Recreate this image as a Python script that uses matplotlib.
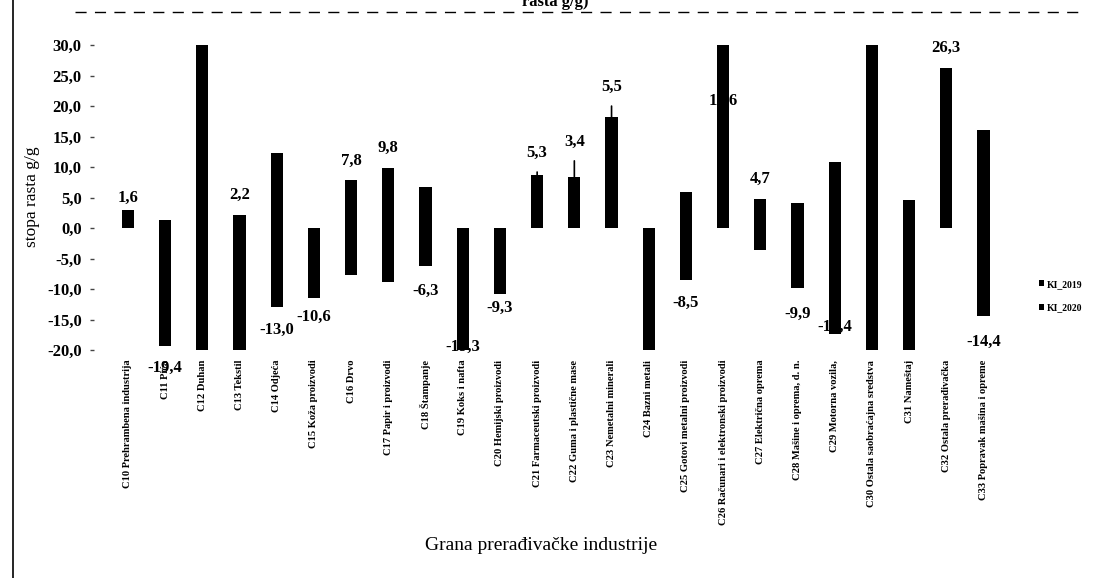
import matplotlib
matplotlib.use("Agg")
import matplotlib.pyplot as plt
from matplotlib.lines import Line2D
from matplotlib.patches import Patch

# ---- data ----
categories = ["C10 Prehrambena industrija", "C11 Pića", "C12 Duhan", "C13 Tekstil",
              "C14 Odjeća", "C15 Koža proizvodi", "C16 Drvo", "C17 Papir i proizvodi",
              "C18 Štampanje", "C19 Koks i nafta", "C20 Hemijski proizvodi",
              "C21 Farmaceutski proizvodi", "C22 Guma i plastične mase",
              "C23 Nemetalni minerali", "C24 Bazni metali", "C25 Gotovi metalni proizvodi",
              "C26 Računari i elektronski proizvodi", "C27 Električna oprema",
              "C28 Mašine i oprema, d. n.", "C29 Motorna vozila,",
              "C30 Ostala saobraćajna sredstva", "C31 Nameštaj",
              "C32 Ostala prerađivačka", "C33 Popravak mašina i opreme"]
ki_2019 = [3.0, 1.3, 36.0, -21.0, 12.3, -11.4, -7.7, -8.9, 6.7, -21.5, -10.8, 8.7,
           8.4, 18.2, -23.0, 5.9, 32.0, -3.6, 4.1, 10.8, 34.0, 4.6, 1.5, 16.1]
ki_2020 = [1.6, -19.4, -24.0, 2.2, -13.0, -10.6, 7.8, 9.8, -6.3, -19.3, -9.3, 5.3,
           3.4, 5.5, -21.0, -8.5, 17.6, 4.7, -9.9, -17.4, -23.0, -22.0, 26.3, -14.4]
labeled = [True, True, False, True, True, True, True, True, True, True, True, True,
           True, True, False, True, True, True, True, True, False, False, True, True]
series_names = ["KI_2019", "KI_2020"]
y_ticks = [30, 25, 20, 15, 10, 5, 0, -5, -10, -15, -20]

# ---- label layout (pixels, upward positive) ----
label_dy = [20, -22, 0, 20, -23, -24, 20, 20, -24, -1, -23, 22,
            35, 30, 0, -23, 20, 20, -25, 7, 0, 0, 20, -26]
leader = [False] * 24
leader[11] = leader[12] = leader[13] = True

W, H = 1093, 578
fig = plt.figure(figsize=(W / 100, H / 100), dpi=100)
fig.patch.set_facecolor("white")
ax = fig.add_axes([90 / W, 1 - 350 / H, (1020 - 90) / W, (350 - 45) / H])

serif = "Liberation Serif"
x = list(range(len(categories)))
bw = 0.33
ax.bar(x, ki_2019, width=bw, color="black", label=series_names[0], zorder=2)
ax.bar(x, ki_2020, width=bw, color="black", label=series_names[1], zorder=2)

ax.set_ylim(-20, 30)
ax.set_xlim(-1.02, 23.98)
ax.set_yticks(y_ticks)
ax.set_yticklabels([f"{t:.1f}".replace(".", ",") for t in y_ticks],
                   fontfamily=serif, fontweight="bold", fontsize=12)
ax.set_xticks(x)
ax.set_xticklabels(categories, rotation=90, fontfamily=serif, fontweight="bold",
                   fontsize=7.6, va="top", ha="center")
ax.tick_params(axis="x", length=0, pad=7)
ax.tick_params(axis="y", direction="in", length=3, width=1, color="#444444", pad=6)
for s in ax.spines.values():
    s.set_visible(False)

# data labels
for i, (a, b) in enumerate(zip(ki_2019, ki_2020)):
    if not labeled[i]:
        continue
    txt = f"{b:.1f}".replace(".", ",")
    if leader[i]:
        anchor = max(a, b)
        ax.annotate(txt, xy=(i, anchor), xytext=(0, label_dy[i]),
                    textcoords="offset pixels", ha="center", va="center",
                    fontfamily=serif, fontweight="bold", fontsize=12,
                    arrowprops=dict(arrowstyle="-", color="black", lw=1.2,
                                    shrinkA=6, shrinkB=0), zorder=3)
    else:
        ax.annotate(txt, xy=(i, b), xytext=(0, label_dy[i]),
                    textcoords="offset pixels", ha="center", va="center",
                    fontfamily=serif, fontweight="bold", fontsize=12,
                    annotation_clip=False, zorder=3)

ax.set_ylabel("stopa rasta g/g", fontfamily=serif, fontsize=12.5)
ax.yaxis.set_label_coords((40 - 90) / (1020 - 90), (350 - 197) / (350 - 45))

fig.text(541 / W, 1 - 546 / H, "Grana prerađivačke industrije", fontfamily=serif,
         fontsize=14, ha="center", va="center")

# cropped title and scan edges
fig.text(555 / W, 1 - 2 / H, "rasta g/g)", fontfamily=serif, fontweight="bold",
         fontsize=12, ha="center", va="center")
fig.add_artist(Line2D([75 / W, 1085 / W], [1 - 12 / H, 1 - 12 / H], color="black",
                      lw=1, linestyle=(0, (8, 6))))
fig.add_artist(Line2D([13 / W, 13 / W], [0, 1], color="black", lw=1.2))

handles = [Patch(facecolor="black"), Patch(facecolor="black")]
fig.legend(handles, series_names, loc="center left",
           bbox_to_anchor=(1030 / W, 1 - 296 / H), frameon=False,
           prop=dict(family=serif, weight="bold", size=7),
           handlelength=0.5, handleheight=0.5, handletextpad=0.3, labelspacing=1.5)

fig.savefig("out.png", dpi=100, facecolor="white")
